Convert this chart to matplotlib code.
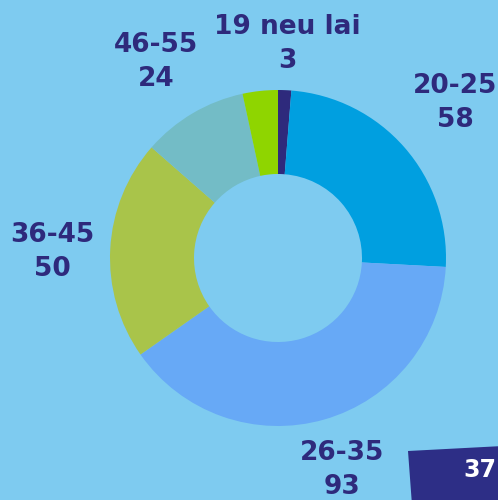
import matplotlib
matplotlib.use("Agg")
import matplotlib.pyplot as plt
from matplotlib.patches import Polygon

categories = ["19 neu lai", "20-25", "26-35", "36-45", "46-55", ""]
values = [3, 58, 93, 50, 24, 8]
colors = ["#2e2a7c", "#009fe0", "#67a9f6", "#a9c44a", "#73bcc6", "#8fd500"]
# label anchor positions in pixels (x, y from top)
label_pos = [(287, 44), (455, 103), (342, 470), (52, 252), (156, 62), None]

BG = "#7ecbf0"
TXT = "#2e2a7c"
W, H = 498, 500

fig = plt.figure(figsize=(W / 100, H / 100), dpi=100, facecolor=BG)
ax = fig.add_axes([0, 0, 1, 1])
ax.set_facecolor(BG)

cx, cy, R = 278, H - 258, 168
ax.pie(values, colors=colors, startangle=90, counterclock=False,
       radius=R, center=(cx, cy), frame=True,
       wedgeprops=dict(width=R - 84, linewidth=0))
ax.set_xlim(0, W)
ax.set_ylim(0, H)
ax.set_aspect("equal")
ax.axis("off")

for cat, val, pos in zip(categories, values, label_pos):
    if pos is None:
        continue
    ax.text(pos[0], H - pos[1], f"{cat}\n{val}", ha="center", va="center",
            color=TXT, fontsize=19, fontweight="heavy", family="DejaVu Sans",
            linespacing=1.4)

# decorative box bottom-right
box = Polygon([(408, H - 451), (W + 5, H - 446), (W + 5, -5), (412, -5)],
              closed=True, facecolor="#2d2e86", edgecolor="none")
ax.add_patch(box)
ax.text(463, H - 470, "37", ha="left", va="center", color="white",
        fontsize=17, fontweight="bold", family="DejaVu Sans")

fig.savefig("out.png", dpi=100, facecolor=BG)
